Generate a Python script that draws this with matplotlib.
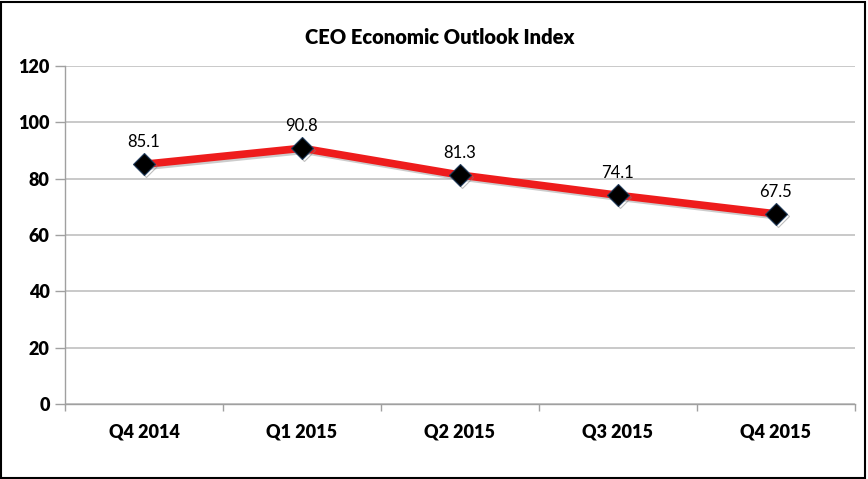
import matplotlib
matplotlib.use("Agg")
import matplotlib.pyplot as plt
import matplotlib.patheffects as pe
from matplotlib.patches import Rectangle
import numpy as np

categories = ["Q4 2014", "Q1 2015", "Q2 2015", "Q3 2015", "Q4 2015"]
values = [85.1, 90.8, 81.3, 74.1, 67.5]
yticks = [0, 20, 40, 60, 80, 100, 120]
title = "CEO Economic Outlook Index"

plt.rcParams['font.family'] = ['Lato', 'DejaVu Sans']

fig = plt.figure(figsize=(8.68, 4.79), dpi=100)
ax = fig.add_axes([65/868, 75/479, 790/868, 338/479])

x = np.arange(len(categories))
ax.plot(x, values, color='#ee1c1c', lw=5.5, solid_capstyle='butt', zorder=3,
        path_effects=[pe.SimpleLineShadow(offset=(1.5, -1.5), shadow_color='gray', alpha=0.4), pe.Normal()])
ax.plot(x, values, ls='none', marker='D', ms=11, mfc='black', mec='#1f3a5a', mew=0.8, zorder=4,
        path_effects=[pe.SimpleLineShadow(offset=(1.5, -1.5), shadow_color='gray', alpha=0.5), pe.Normal()])
for xi, v in zip(x, values):
    ax.annotate(f"{v}", (xi, v), xytext=(0, 10), textcoords='offset points',
                ha='center', va='bottom', fontsize=12, color='black')

ax.set_xlim(-0.5, len(categories) - 0.5)
ax.set_ylim(0, 120)
ax.set_yticks(yticks)
ax.set_yticklabels([str(t) for t in yticks], fontsize=13, fontweight='heavy')
ax.set_xticks(x)
ax.set_xticklabels(categories, fontsize=13, fontweight='heavy')
ax.tick_params(axis='x', length=0, pad=14)
ax.set_xticks(np.arange(-0.5, len(categories)), minor=True)
ax.tick_params(axis='x', which='minor', length=5, color='#a0a0a0', width=1)
ax.tick_params(axis='y', length=7, color='#a0a0a0', width=1, pad=4)
ax.grid(axis='y', color='#c0c0c0', lw=1.2)
ax.set_axisbelow(True)
for s in ['top', 'right']:
    ax.spines[s].set_visible(False)
for s in ['left', 'bottom']:
    ax.spines[s].set_color('#a0a0a0')
    ax.spines[s].set_linewidth(1)

fig.text(440/868, 1 - 38/479, title, ha='center', va='center', fontsize=14.5, fontweight='heavy')

fig.patches.append(Rectangle((0.001, 0.002), 0.996, 0.994, transform=fig.transFigure,
                             fill=False, edgecolor='black', lw=1.5))

fig.savefig("out.png", dpi=100)
